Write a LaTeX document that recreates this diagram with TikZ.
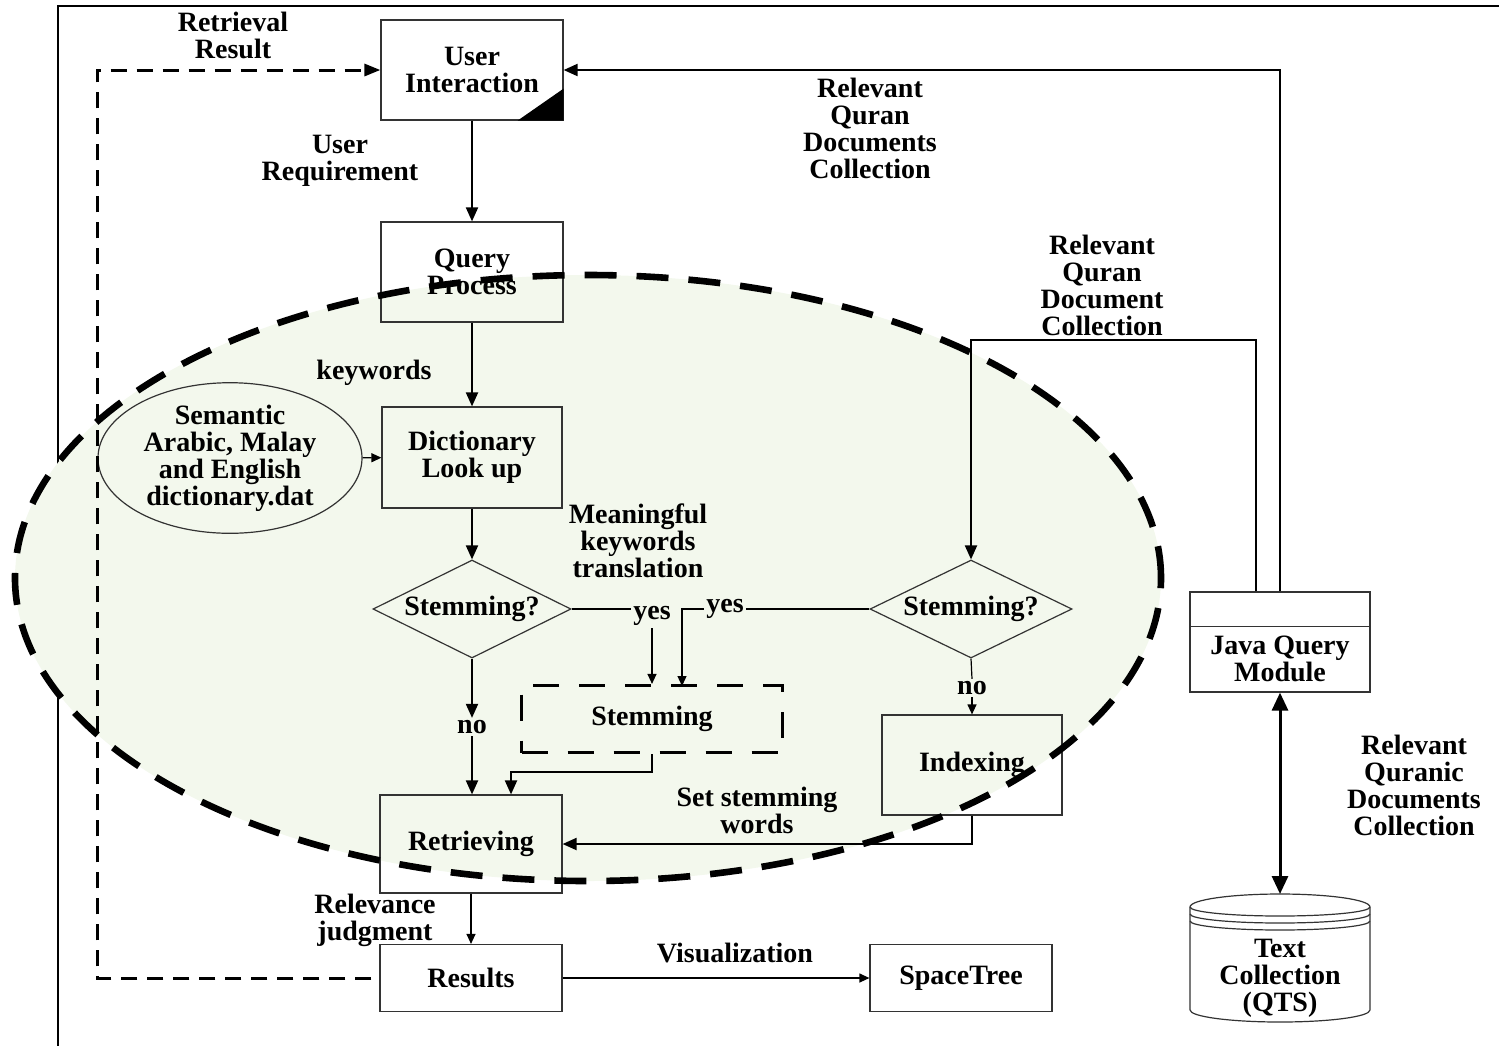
\documentclass[tikz,border=0pt]{standalone}
\usepackage{fontspec}
\setmainfont{Liberation Serif}
\usetikzlibrary{arrows.meta,shapes.geometric,calc}

\definecolor{zone}{HTML}{F3F8ED}
\definecolor{edge}{HTML}{333333}

\begin{document}
\begin{tikzpicture}[x=0.5pt,y=-0.5pt,
  every node/.style={font=\bfseries\fontsize{14}{13.5}\selectfont, align=center, inner sep=1pt},
  box/.style={draw=edge, line width=0.6pt, minimum width=#1},
  box/.default=91pt,
  decision/.style={draw=edge, line width=0.6pt, diamond, aspect=2, inner sep=0pt, minimum height=49pt},
  heavy/.style={line width=1pt, -{Triangle[length=7pt,width=6pt]}},
  light/.style={line width=0.6pt, -{Triangle[length=5pt,width=4.5pt]}},
  plain/.style={line width=0.6pt},
  feedback/.style={line width=1.5pt, dash pattern=on 8pt off 5pt, -{Triangle[length=8pt,width=6pt]}},
  stemdash/.style={draw, line width=1.6pt, dash pattern=on 13pt off 10pt},
  zoneline/.style={line width=3.3pt, dash pattern=on 16pt off 10pt}
]
\useasboundingbox (0,0) rectangle (1499,1046);

% outer frame (top and left edges)
\draw[line width=1.3pt] (1499,6) -- (58,6) -- (58,1046);

% shaded processing zone
\fill[zone] (588,578) ellipse [x radius=286.5pt, y radius=151.5pt];

% boxes
\node[box, minimum height=50pt] (ui) at (472,70) {User\\Interaction};
\fill ($(ui.south east)+(-46,0)$) -- (ui.south east) -- ($(ui.south east)+(0,-32)$) -- cycle;
\node[box, minimum height=50pt] (qp) at (472,272) {Query\\Process};
\node[box=90pt, minimum height=50.5pt] (dict) at (472,457.5) {Dictionary\\Look up};
\node[draw=edge, line width=0.6pt, ellipse, minimum width=132pt, minimum height=50pt, inner sep=0pt] (sem) at (230,458) {Semantic\\Arabic, Malay\\and English\\dictionary.dat};
\node[decision, minimum width=99pt] (d1) at (472,609) {Stemming?};
\node[decision, minimum width=101pt] (d2) at (971,609) {Stemming?};
\node[stemdash, minimum width=130.5pt, minimum height=33.5pt] (stem) at (652,719) {Stemming};
\node[box=90pt, minimum height=50pt] (idx) at (972,765) {Indexing};
\node[box, minimum height=49pt] (ret) at (471,844) {Retrieving};
\node[box, minimum height=33.5pt] (res) at (471,978) {Results};
\node[box, minimum height=33.5pt] (st) at (961,978) {SpaceTree};
\node[box=90pt, minimum height=50pt] (java) at (1280,642) {};
\draw[draw=edge, line width=0.6pt] ($(java.north west)+(0,35)$) -- ($(java.north east)+(0,35)$);
\node (javatxt) at (1280,659) {Java Query\\Module};

% text collection cylinder
\coordinate (cyltop) at (1280,894);
\draw[draw=edge, line width=0.6pt, fill=white]
  (1190,1010) -- (1190,907) arc[start angle=180, end angle=0, x radius=45pt, y radius=6.5pt]
  -- (1370,1010) arc[start angle=0, end angle=-180, x radius=45pt, y radius=6pt];
\draw[draw=edge, line width=0.6pt] (1190,907) arc[start angle=180, end angle=360, x radius=45pt, y radius=4.5pt];
\draw[draw=edge, line width=0.6pt] (1190,914) arc[start angle=180, end angle=360, x radius=45pt, y radius=4.5pt];
\draw[draw=edge, line width=0.6pt] (1190,921) arc[start angle=180, end angle=360, x radius=45pt, y radius=4.5pt];
\node (cyl) at (1280,978) {Text\\Collection\\(QTS)};

% edge labels
\node (l1) at (233,35) {Retrieval\\Result};
\node (l2) at (340,161) {User\\Requirement};
\node (l3) at (870,128) {Relevant\\Quran\\Documents\\Collection};
\node (l4) at (1102,285) {Relevant\\Quran\\Document\\Collection};
\node (l5) at (374,373) {keywords};
\node (l6) at (638,541) {Meaningful\\keywords\\translation};
\node (l7) at (757,810) {Set stemming\\words};
\node (l8) at (375,920) {Relevance\\judgment};
\node (l9) at (735,953) {Visualization};
\node (l10) at (1414,785) {Relevant\\Quranic\\Documents\\Collection};
\node (yes1) at (652,616) {yes};
\node (yes2) at (725,609) {yes};
\node (no1) at (472,727) {no};
\node (no2) at (972,688) {no};

% connectors
\draw[heavy] (ui) -- (qp);
\draw[heavy] (qp) -- (dict);
\draw[light] (sem) -- (dict);
\draw[heavy] (dict) -- (d1);
\draw[plain] (d1.east) -- (yes1.west |- d1.east);
\draw[light] (yes1.south) -- (yes1.south |- stem.north);
\draw[plain] (d2.west) -- (yes2.east);
\draw[light] (yes2.west) -- (682,609) -- (682,686);
\draw[heavy] (d1.south) -- (no1.north);
\draw[heavy] (no1.south) -- (no1.south |- ret.north);
\draw[heavy] (stem.south) -- (652,772) -| ($(ret.north)+(40,0)$);
\draw[plain] (d2.south) -- (no2.north);
\draw[light] (no2.south) -- (idx.north);
\draw[heavy] (idx.south) |- (ret.east);
\draw[light] (ret) -- (res);
\draw[light] (res) -- (st);
\draw[heavy] ([xshift=-12pt]java.north) |- (d2.north |- 0,340) -- (d2.north);
\draw[heavy] (java.north) |- (ui.east);
\draw[line width=1.5pt, {Triangle[length=9pt,width=8pt]}-{Triangle[length=9pt,width=8pt]}] (java.south) -- (cyltop);
\draw[feedback, shorten <=4pt] (res.west) -- (97,978) |- (ui.west);

% dashed outline of the processing zone
\draw[zoneline] (588,578) ellipse [x radius=286.5pt, y radius=151.5pt];
\end{tikzpicture}
\end{document}
